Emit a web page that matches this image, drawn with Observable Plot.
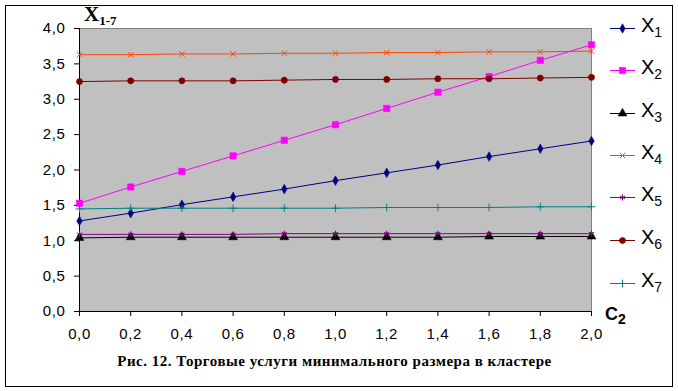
<!DOCTYPE html>
<html><head><meta charset="utf-8">
<script src="https://cdn.jsdelivr.net/npm/d3@7"></script>
<script src="https://cdn.jsdelivr.net/npm/@observablehq/plot@0.6"></script>
<style>
body{margin:0;background:#fff;}
#wrap{position:relative;width:678px;height:391px;font-family:Arial,"Liberation Sans",sans-serif;overflow:hidden;}
#chart{position:absolute;left:0;top:0;}
#chart svg text{letter-spacing:0.6px;}
#border{position:absolute;left:5px;top:5px;width:668px;height:382px;border:1px solid #000;box-sizing:border-box;pointer-events:none;}
#caption{position:absolute;left:0;width:669px;top:353px;text-align:center;font-family:"Liberation Serif","Times New Roman",serif;font-weight:bold;font-size:15px;letter-spacing:0.5px;line-height:16px;white-space:nowrap;}
#ytitle{position:absolute;left:84px;top:4px;font-family:"Liberation Serif","Times New Roman",serif;font-weight:bold;font-size:21px;line-height:21px;white-space:nowrap;}
#ytitle sub{font-size:13px;vertical-align:-4px;}
#xtitle{position:absolute;left:605px;top:305px;font-family:Arial,"Liberation Sans",sans-serif;font-weight:bold;font-size:18px;line-height:18px;white-space:nowrap;}
#xtitle sub{font-size:14px;vertical-align:-4px;}
.lg{position:absolute;left:608px;height:20px;display:flex;align-items:center;white-space:nowrap;}
.lg svg{display:block;}
.lg span{font-size:20px;line-height:20px;margin-left:5px;}
.lg span sub{font-size:14px;vertical-align:-5px;}
</style></head>
<body>
<div id="wrap">
  <div id="chart"></div>
  <div id="border"></div>
  <div id="ytitle">X<sub>1-7</sub></div>
  <div id="xtitle">C<sub>2</sub></div>
  <div id="caption">Рис. 12. Торговые услуги минимального размера в кластере</div>
</div>
<script>
const c2 = [0.0, 0.2, 0.4, 0.6, 0.8, 1.0, 1.2, 1.4, 1.6, 1.8, 2.0];
const x1 = [1.28, 1.39, 1.51, 1.62, 1.73, 1.85, 1.96, 2.07, 2.19, 2.30, 2.41];
const x2 = [1.53, 1.76, 1.98, 2.20, 2.42, 2.64, 2.87, 3.10, 3.32, 3.55, 3.77];
const x3 = [1.04, 1.05, 1.05, 1.05, 1.05, 1.05, 1.05, 1.05, 1.06, 1.06, 1.06];
const x4 = [3.63, 3.63, 3.64, 3.64, 3.65, 3.65, 3.66, 3.66, 3.67, 3.67, 3.68];
const x5 = [1.09, 1.09, 1.09, 1.09, 1.10, 1.10, 1.10, 1.10, 1.10, 1.10, 1.10];
const x6 = [3.25, 3.26, 3.26, 3.26, 3.27, 3.28, 3.28, 3.29, 3.29, 3.30, 3.31];
const x7 = [1.45, 1.46, 1.46, 1.46, 1.46, 1.46, 1.47, 1.47, 1.47, 1.48, 1.48];
const seriesNames = ["X1", "X2", "X3", "X4", "X5", "X6", "X7"];
const seriesSubs = ["1", "2", "3", "4", "5", "6", "7"];
const seriesColors = ["#000080", "#ff00ff", "#000000", "#ff4500", "#800080", "#800000", "#008080"];
const seriesSymbols = ["diamond", "square", "triangle", "times", "asterisk", "circle", "plus"];
const xTicks = [0.0, 0.2, 0.4, 0.6, 0.8, 1.0, 1.2, 1.4, 1.6, 1.8, 2.0];
const yTicks = [0.0, 0.5, 1.0, 1.5, 2.0, 2.5, 3.0, 3.5, 4.0];

const values = [x1, x2, x3, x4, x5, x6, x7];
const filledSym = new Set(["diamond", "square", "triangle", "circle"]);
const symR = {diamond: 2.9, square: 3.6, triangle: 3.3, times: 2.6, asterisk: 2.8, circle: 3.1, plus: 2.6};
const data = [];
values.forEach((arr, i) => arr.forEach((v, j) => data.push({s: seriesNames[i], c: c2[j], v})));
const fmt = d => d3.format(".1f")(d).replace(".", ",");

const dotMarks = seriesNames.map((name, i) => {
  const sym = seriesSymbols[i];
  const filled = filledSym.has(sym);
  return Plot.dot(data.filter(d => d.s === name), {
    x: "c", y: "v", symbol: () => sym, r: symR[sym],
    fill: filled ? seriesColors[i] : "none",
    stroke: seriesColors[i], strokeWidth: filled ? 0.5 : 1
  });
});

const chart = Plot.plot({
  width: 678, height: 391,
  marginLeft: 79, marginRight: 87, marginTop: 28, marginBottom: 80,
  style: {fontFamily: 'Arial, "Liberation Sans", sans-serif', fontSize: "15px", background: "transparent", color: "#000", overflow: "visible"},
  x: {domain: [0, 2]},
  y: {domain: [0, 4]},
  color: {domain: seriesNames, range: seriesColors},
  symbol: {domain: seriesSymbols, range: seriesSymbols},
  marks: [
    Plot.frame({fill: "#c0c0c0", stroke: "#808080"}),
    Plot.axisY({ticks: yTicks, tickSize: 5, tickPadding: 9, tickFormat: fmt, label: null}),
    Plot.axisX({ticks: xTicks, tickSize: 5, tickPadding: 12, tickFormat: fmt, label: null}),
    Plot.ruleX([0], {stroke: "#000"}),
    Plot.ruleY([0], {stroke: "#000"}),
    Plot.line(data, {x: "c", y: "v", z: "s", stroke: "s", strokeWidth: 1}),
    ...dotMarks
  ]
});
document.getElementById("chart").appendChild(chart);

// legend
const wrap = document.getElementById("wrap");
const legendY = [28, 70, 113, 155, 197, 240, 283];
const d3sym = {diamond: d3.symbolDiamond, square: d3.symbolSquare, triangle: d3.symbolTriangle, times: d3.symbolTimes, asterisk: d3.symbolAsterisk, circle: d3.symbolCircle, plus: d3.symbolPlus};
seriesNames.forEach((name, i) => {
  const row = document.createElement("div");
  row.className = "lg";
  row.style.top = (legendY[i] - 10) + "px";
  const sym = seriesSymbols[i];
  const filled = filledSym.has(sym);
  const r = symR[sym];
  const path = d3.symbol(d3sym[sym], Math.PI * r * r)();
  row.innerHTML = `<svg width="28" height="20"><line x1="2" x2="27" y1="10.5" y2="10.5" stroke="${seriesColors[i]}" stroke-width="1"/>` +
    `<path transform="translate(14.5,10.5)" d="${path}" fill="${filled ? seriesColors[i] : "none"}" stroke="${seriesColors[i]}" stroke-width="${filled ? 0.5 : 1}"/></svg>` +
    `<span>X<sub>${seriesSubs[i]}</sub></span>`;
  wrap.appendChild(row);
});
</script>
</body></html>
